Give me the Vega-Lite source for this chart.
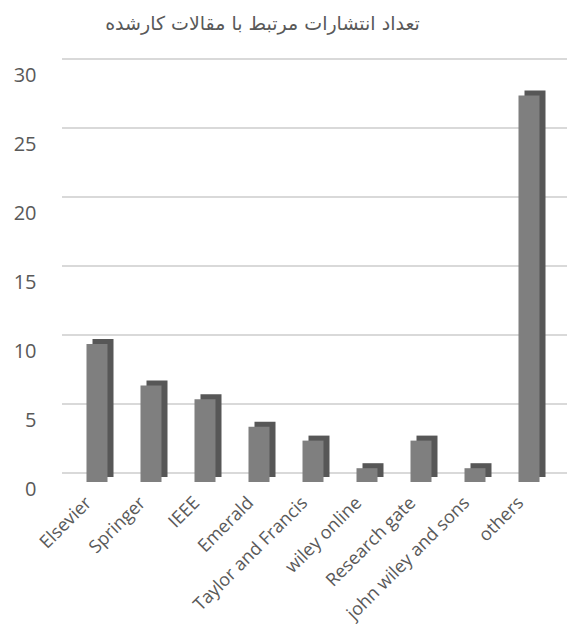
{
  "$schema": "https://vega.github.io/schema/vega-lite/v6.json",
  "width": 505,
  "height": 414,
  "autosize": {"type": "none"},
  "padding": {"left": 62, "top": 68, "right": 0, "bottom": 153},
  "background": "white",
  "config": {"view": {"stroke": null}, "font": "Open Sans"},
  "title": {
    "text": "تعداد انتشارات مرتبط با مقالات کارشده",
    "fontSize": 19,
    "fontWeight": "normal",
    "color": "#595959",
    "font": "DejaVu Sans",
    "anchor": "middle",
    "dx": -52,
    "offset": 24
  },
  "datasets": {
    "bars": [
      {"publisher": "Elsevier", "count": 10},
      {"publisher": "Springer", "count": 7},
      {"publisher": "IEEE", "count": 6},
      {"publisher": "Emerald", "count": 4},
      {"publisher": "Taylor and Francis", "count": 3},
      {"publisher": "wiley online", "count": 1},
      {"publisher": "Research gate", "count": 3},
      {"publisher": "john wiley and sons", "count": 1},
      {"publisher": "others", "count": 28}
    ],
    "grid": [
      {"v": 0}, {"v": 5}, {"v": 10}, {"v": 15}, {"v": 20}, {"v": 25}, {"v": 30}
    ]
  },
  "layer": [
    {
      "data": {"name": "grid"},
      "mark": {"type": "rule", "color": "#d9d9d9", "strokeWidth": 2, "yOffset": -9},
      "encoding": {
        "y": {
          "field": "v",
          "type": "quantitative",
          "scale": {"domain": [0, 30], "nice": false, "zero": true},
          "axis": {
            "values": [0, 5, 10, 15, 20, 25, 30],
            "domain": false,
            "ticks": false,
            "grid": false,
            "title": null,
            "labelFontSize": 20,
            "labelColor": "#595959",
            "labelPadding": 26,
            "labelOffset": 7
          }
        }
      }
    },
    {
      "data": {"name": "bars"},
      "mark": {"type": "bar", "color": "#575757", "size": 21, "xOffset": 6, "yOffset": -5},
      "encoding": {
        "x": {
          "field": "publisher",
          "type": "nominal",
          "sort": null,
          "scale": {"range": [8, 494], "paddingInner": 0, "paddingOuter": 0},
          "axis": {
            "domain": false,
            "ticks": false,
            "title": null,
            "labelAngle": -45,
            "labelAlign": "right",
            "labelBaseline": "middle",
            "labelFontSize": 18,
            "labelColor": "#595959",
            "labelPadding": 18,
            "labelOffset": -8
          }
        },
        "y": {"field": "count", "type": "quantitative"}
      }
    },
    {
      "data": {"name": "bars"},
      "mark": {"type": "bar", "color": "#7f7f7f", "size": 21},
      "encoding": {
        "x": {"field": "publisher", "type": "nominal", "sort": null},
        "y": {"field": "count", "type": "quantitative"}
      }
    }
  ]
}
